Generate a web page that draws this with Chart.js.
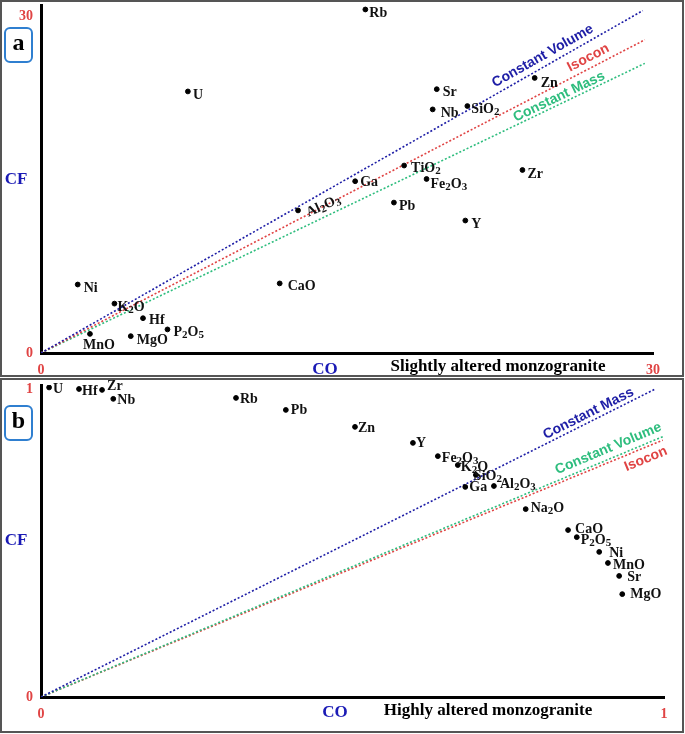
<!DOCTYPE html>
<html>
<head>
<meta charset="utf-8">
<script src="https://cdn.jsdelivr.net/npm/chart.js@4"></script>
<style>
  body { margin: 0; background: #fff; }
  #wrap { position: relative; width: 685px; height: 734px; }
  canvas { position: absolute; left: 0; }
</style>
</head>
<body>
<div id="wrap">
  <canvas id="chartA" width="685" height="377" style="top:0;width:685px;height:377px"></canvas>
  <canvas id="chartB" width="685" height="357" style="top:377px;width:685px;height:357px"></canvas>
</div>
<script>
// ---- panel a : slightly altered monzogranite ----
const elementsA = ['Rb', 'U', 'Sr', 'Nb', 'SiO2', 'Zn', 'TiO2', 'Zr', 'Ga', 'Fe2O3', 'Pb', 'Y', 'Al2O3', 'Ni', 'CaO', 'K2O', 'Hf', 'P2O5', 'MnO', 'MgO'];
const coA = [15.9, 7.2, 19.4, 19.2, 20.9, 24.2, 17.8, 23.6, 15.4, 18.9, 17.3, 20.8, 12.6, 1.8, 11.7, 3.6, 5.0, 6.2, 2.4, 4.4];
const cfA = [30.6, 23.3, 23.5, 21.7, 22.0, 24.5, 16.7, 16.3, 15.3, 15.5, 13.4, 11.8, 12.7, 6.1, 6.2, 4.4, 3.1, 2.1, 1.7, 1.5];
const linesA = ['Constant Volume', 'Isocon', 'Constant Mass'];
const lineEndCoA = [29.5, 29.6, 29.6];
const lineEndCfA = [30.5, 27.9, 25.8];
const ticksA = [0, 30];

// ---- panel b : highly altered monzogranite ----
const elementsB = ['U', 'Hf', 'Zr', 'Nb', 'Rb', 'Pb', 'Zn', 'Y', 'Fe2O3', 'K2O', 'SiO2', 'Ga', 'Al2O3', 'Na2O', 'CaO', 'P2O5', 'Ni', 'MnO', 'Sr', 'MgO'];
const coB = [0.013, 0.061, 0.098, 0.116, 0.313, 0.393, 0.504, 0.597, 0.637, 0.669, 0.698, 0.681, 0.727, 0.778, 0.846, 0.860, 0.896, 0.910, 0.928, 0.933];
const cfB = [1.005, 1.0, 0.997, 0.968, 0.971, 0.932, 0.877, 0.825, 0.782, 0.753, 0.721, 0.682, 0.685, 0.610, 0.542, 0.519, 0.471, 0.435, 0.393, 0.334];
const linesB = ['Constant Mass', 'Constant Volume', 'Isocon'];
const lineEndCoB = [0.986, 1.0, 0.998];
const lineEndCfB = [1.0, 0.847, 0.834];
const ticksB = [0, 1];

const BLUE = '#1e1ea6';
const RED = '#e04444';
const GREEN = '#2ebd7e';
const SERIF = '"Liberation Serif", "Times New Roman", serif';
const SANS = '"Liberation Sans", Arial, sans-serif';

// draw a formula with subscript digits
function drawChem(ctx, text, x, y, rot) {
    ctx.save();
    ctx.translate(x, y);
    ctx.rotate(rot || 0);
    ctx.textBaseline = 'middle';
    ctx.textAlign = 'left';
    ctx.fillStyle = '#111';
    let cx = 0;
    for (const ch of text) {
        const sub = /\d/.test(ch);
        ctx.font = 'bold ' + (sub ? 11 : 14) + 'px ' + SERIF;
        ctx.fillText(ch, cx, sub ? 3 : 0);
        cx += ctx.measureText(ch).width;
    }
    ctx.restore();
}

function makeChart(id, p) {
    const points = p.names.map((n, i) => ({ x: p.co[i], y: p.cf[i] }));
    const lineSets = p.lines.map((n, i) => ({
        type: 'line',
        label: n,
        data: [{ x: 0, y: 0 }, { x: p.endCo[i], y: p.endCf[i] }],
        borderColor: p.lineColors[i],
        borderWidth: 1.6,
        borderDash: [2, 2],
        pointRadius: 0,
        fill: false,
        order: 2
    }));

    const annot = {
        id: 'annot' + id,
        afterDraw(chart) {
            const ctx = chart.ctx;
            const xs = chart.scales.x, ys = chart.scales.y;

            // element labels
            const meta = chart.getDatasetMeta(chart.data.datasets.length - 1);
            meta.data.forEach((pt, i) => {
                const name = p.names[i];
                const off = p.offsets[name] || [5, 3, 0];
                drawChem(ctx, name, pt.x + off[0], pt.y + off[1], off[2]);
            });

            // labels along the reference lines
            const x0 = xs.getPixelForValue(0), y0 = ys.getPixelForValue(0);
            p.lines.forEach((n, i) => {
                const x1 = xs.getPixelForValue(p.endCo[i]), y1 = ys.getPixelForValue(p.endCf[i]);
                const ang = Math.atan2(y1 - y0, x1 - x0);
                const t = p.lineLabel[i][0], off = p.lineLabel[i][1];
                const cx = x0 + t * (x1 - x0) + Math.sin(ang) * off;
                const cy = y0 + t * (y1 - y0) - Math.cos(ang) * off;
                ctx.save();
                ctx.translate(cx, cy);
                ctx.rotate(ang);
                ctx.font = 'bold 14px ' + SANS;
                ctx.fillStyle = p.lineColors[i];
                ctx.textAlign = 'center';
                ctx.textBaseline = 'middle';
                ctx.fillText(n, 0, 0);
                ctx.restore();
            });

            ctx.save();
            // frame
            ctx.strokeStyle = '#555';
            ctx.lineWidth = 2;
            ctx.strokeRect(p.frame[0], p.frame[1], p.frame[2], p.frame[3]);
            // panel letter box
            ctx.strokeStyle = '#2f7fd0';
            ctx.lineWidth = 2;
            ctx.beginPath();
            ctx.roundRect(5, p.boxY, 27, 34, 5);
            ctx.stroke();
            ctx.fillStyle = '#000';
            ctx.font = 'bold 24px ' + SERIF;
            ctx.textAlign = 'center';
            ctx.textBaseline = 'middle';
            ctx.fillText(p.letter, 18.5, p.boxY + 16);
            // axis titles
            ctx.fillStyle = '#1a1ab5';
            ctx.font = 'bold 17px ' + SERIF;
            ctx.fillText('CF', 16, p.cfY);
            ctx.fillText('CO', p.coPos[0], p.coPos[1]);
            ctx.fillStyle = '#000';
            ctx.font = 'bold 17px ' + SERIF;
            ctx.fillText(p.title, p.titlePos[0], p.titlePos[1]);
            ctx.restore();
        }
    };

    const tickFont = { family: SERIF, weight: 'bold', size: 14 };
    return new Chart(document.getElementById(id), {
        type: 'scatter',
        data: {
            datasets: [...lineSets, {
                label: 'elements',
                data: points,
                backgroundColor: '#000',
                borderColor: '#000',
                pointRadius: 2.4,
                order: 1
            }]
        },
        options: {
            responsive: false,
            animation: false,
            layout: { padding: p.pad },
            plugins: { legend: { display: false }, tooltip: { enabled: false } },
            scales: {
                x: {
                    type: 'linear', min: 0, max: p.xMax,
                    grid: { display: false, drawTicks: false },
                    border: { display: true, color: '#000', width: 3 },
                    afterBuildTicks: s => { s.ticks = p.ticks.map(v => ({ value: v })); },
                    afterFit: s => { s.height = p.xH; s.paddingLeft = 0; s.paddingRight = 0; },
                    ticks: { color: RED, font: tickFont, padding: 9, maxRotation: 0, autoSkip: false }
                },
                y: {
                    type: 'linear', min: 0, max: p.yMax,
                    grid: { display: false, drawTicks: false },
                    border: { display: true, color: '#000', width: 3 },
                    afterBuildTicks: s => { s.ticks = p.ticks.map(v => ({ value: v })); },
                    afterFit: s => { s.width = 41; s.paddingTop = 0; s.paddingBottom = 0; },
                    ticks: { color: RED, font: tickFont, padding: 8, autoSkip: false }
                }
            }
        },
        plugins: [annot]
    });
}

makeChart('chartA', {
    names: elementsA, co: coA, cf: cfA,
    lines: linesA, endCo: lineEndCoA, endCf: lineEndCfA, ticks: ticksA,
    lineColors: [BLUE, RED, GREEN],
    lineLabel: [[0.842, 10], [0.914, 10], [0.863, 7]],
    xMax: 30, yMax: 31, xH: 24,
    pad: { top: 4, right: 32, bottom: 0, left: 0 },
    offsets: {
        Rb: [4, 4], U: [5, 4], Sr: [6, 3], Nb: [8, 4], SiO2: [4, 3], Zn: [6, 5],
        TiO2: [7, 3], Zr: [5, 4], Ga: [5, 1], Fe2O3: [4, 5], Pb: [5, 4], Y: [6, 4],
        Al2O3: [9, 3, -0.42], Ni: [6, 4], CaO: [8, 3], K2O: [3, 4], Hf: [6, 2],
        P2O5: [6, 3], MnO: [-7, 11], MgO: [6, 4]
    },
    frame: [1, 1, 682, 375],
    letter: 'a', boxY: 28, cfY: 180, coPos: [325, 370],
    title: 'Slightly altered monzogranite', titlePos: [498, 367]
});

makeChart('chartB', {
    names: elementsB, co: coB, cf: cfB,
    lines: linesB, endCo: lineEndCoB, endCf: lineEndCfB, ticks: ticksB,
    lineColors: [BLUE, GREEN, RED],
    lineLabel: [[0.897, 8], [0.917, 10], [0.966, -11]],
    xMax: 1, yMax: 1.013, xH: 37,
    pad: { top: 8, right: 21, bottom: 0, left: 0 },
    offsets: {
        U: [4, 2], Hf: [3, 2], Zr: [5, -4], Nb: [4, 2], Rb: [4, 1], Pb: [5, 0],
        Zn: [3, 2], Y: [3, 0], Fe2O3: [4, 2], K2O: [3, 2], SiO2: [-2, 1], Ga: [4, 0],
        Al2O3: [6, -2], Na2O: [5, -1], CaO: [7, -1], P2O5: [4, 3], Ni: [10, 1],
        MnO: [5, 2], Sr: [8, 1], MgO: [8, 0]
    },
    frame: [1, 2, 682, 353],
    letter: 'b', boxY: 29, cfY: 164, coPos: [335, 336],
    title: 'Highly altered monzogranite', titlePos: [488, 334]
});
</script>
</body>
</html>
